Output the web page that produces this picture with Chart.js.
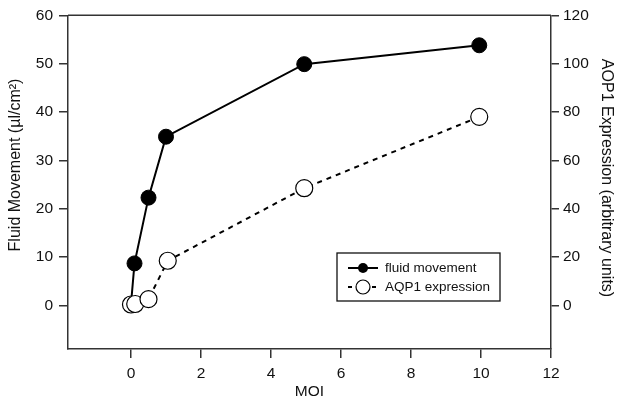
<!DOCTYPE html>
<html>
<head>
<meta charset="utf-8">
<script src="https://cdn.jsdelivr.net/npm/chart.js@4/dist/chart.umd.min.js"></script>
<style>
html,body{margin:0;padding:0;background:#fff;}
#wrap{width:621px;height:404px;position:relative;}
</style>
</head>
<body>
<div id="wrap"><canvas id="c" width="621" height="404"></canvas></div>
<script>
// ---- data ----
const fluidMOI = [0, 0.1, 0.5, 1.0, 4.95, 9.95];
const fluidValues = [0.3, 8.7, 22.3, 34.9, 49.9, 53.8];
const aqpMOI = [0, 0.12, 0.5, 1.05, 4.95, 9.95];
const aqpValues = [0.4, 0.6, 2.6, 18.5, 48.5, 78.0];
const xTicks = [0, 2, 4, 6, 8, 10, 12];
const yLeftTicks = [0, 10, 20, 30, 40, 50, 60];
const yRightTicks = [0, 20, 40, 60, 80, 100, 120];
const seriesNames = ['fluid movement', 'AQP1 expression'];
const xTitle = 'MOI';
const yLeftTitle = 'Fluid Movement (\u00B5l/cm\u00B2)';
const yRightTitle = 'AOP1 Expression (arbitrary units)';

const FONT = 'Liberation Sans, Arial, sans-serif';
const AX = '#333';
const TICKFONT = { family: FONT, size: 15.5 };

function toPts(xs, ys){ return xs.map((x,i)=>({x:x, y:ys[i]})); }

const framePlugin = {
  id: 'frame',
  afterDraw(chart){
    const {ctx, chartArea:a} = chart;
    ctx.save();
    // box top line
    ctx.strokeStyle = AX; ctx.lineWidth = 1.5;
    ctx.beginPath(); ctx.moveTo(a.left, a.top); ctx.lineTo(a.right, a.top); ctx.stroke();
    // axis titles
    ctx.fillStyle = '#111';
    ctx.font = '15.5px ' + FONT;
    ctx.textAlign = 'center'; ctx.textBaseline = 'middle';
    ctx.fillText(xTitle, (a.left + a.right)/2, 392);
    ctx.font = '16px ' + FONT;
    ctx.save(); ctx.translate(16, 165); ctx.rotate(-Math.PI/2);
    ctx.fillText(yLeftTitle, 0, 0); ctx.restore();
    ctx.save(); ctx.translate(606, 178); ctx.rotate(Math.PI/2);
    ctx.fillText(yRightTitle, 0, 0); ctx.restore();
    // legend
    const lx = 337, ly = 253, lw = 163, lh = 48;
    ctx.strokeStyle = '#111'; ctx.lineWidth = 1.3;
    ctx.strokeRect(lx, ly, lw, lh);
    const rows = [268, 287];
    ctx.font = '13.5px ' + FONT; ctx.textAlign = 'left';
    rows.forEach((ry, i) => {
      ctx.strokeStyle = '#000'; ctx.lineWidth = 2;
      ctx.setLineDash(i === 0 ? [] : [4,4]);
      ctx.beginPath(); ctx.moveTo(348, ry); ctx.lineTo(378, ry); ctx.stroke();
      ctx.setLineDash([]);
      ctx.beginPath();
      ctx.arc(363, ry, i === 0 ? 5 : 7, 0, Math.PI*2);
      if (i === 0){ ctx.fillStyle = '#000'; ctx.fill(); }
      else { ctx.fillStyle = '#fff'; ctx.fill(); ctx.lineWidth = 1.2; ctx.stroke(); }
      ctx.fillStyle = '#111';
      ctx.fillText(seriesNames[i], 385, ry);
    });
    ctx.restore();
  }
};

new Chart(document.getElementById('c'), {
  type: 'scatter',
  data: {
    datasets: [
      {
        label: seriesNames[0],
        data: toPts(fluidMOI, fluidValues),
        yAxisID: 'yL',
        showLine: true,
        borderColor: '#000', borderWidth: 2,
        pointBackgroundColor: '#000', pointBorderColor: '#000',
        pointRadius: 7.5, pointBorderWidth: 1,
        order: 1
      },
      {
        label: seriesNames[1],
        data: toPts(aqpMOI, aqpValues),
        yAxisID: 'yR',
        showLine: true,
        borderColor: '#000', borderWidth: 2, borderDash: [5,5],
        pointBackgroundColor: '#fff', pointBorderColor: '#000',
        pointRadius: 8.5, pointBorderWidth: 1.2,
        order: 0
      }
    ]
  },
  options: {
    responsive: false,
    animation: false,
    devicePixelRatio: 1,
    layout: { padding: { top: 13, left: 0, right: 0, bottom: 0 } },
    plugins: { legend: { display: false }, tooltip: { enabled: false } },
    scales: {
      x: {
        type: 'linear', min: -1.8, max: 12,
        afterBuildTicks: s => { s.ticks = xTicks.map(v => ({value: v})); },
        afterFit: s => { s.height = 55; },
        grid: { drawOnChartArea: false, drawTicks: true, tickLength: 9, color: AX, lineWidth: 1.5 },
        border: { display: true, color: AX, width: 1.5 },
        ticks: { color: '#111', font: TICKFONT, padding: 6, maxRotation: 0 }
      },
      yL: {
        type: 'linear', position: 'left', min: -9, max: 60,
        afterBuildTicks: s => { s.ticks = yLeftTicks.map(v => ({value: v})); },
        afterFit: s => { s.width = 68; },
        grid: { drawOnChartArea: false, drawTicks: true, tickLength: 9, color: AX, lineWidth: 1.5 },
        border: { display: true, color: AX, width: 1.5 },
        ticks: { color: '#111', font: TICKFONT, padding: 6 }
      },
      yR: {
        type: 'linear', position: 'right', min: -18, max: 120,
        afterBuildTicks: s => { s.ticks = yRightTicks.map(v => ({value: v})); },
        afterFit: s => { s.width = 70; },
        grid: { drawOnChartArea: false, drawTicks: true, tickLength: 8, color: AX, lineWidth: 1.5 },
        border: { display: true, color: AX, width: 1.5 },
        ticks: { color: '#111', font: TICKFONT, padding: 4 }
      }
    }
  },
  plugins: [framePlugin]
});
</script>
</body>
</html>
